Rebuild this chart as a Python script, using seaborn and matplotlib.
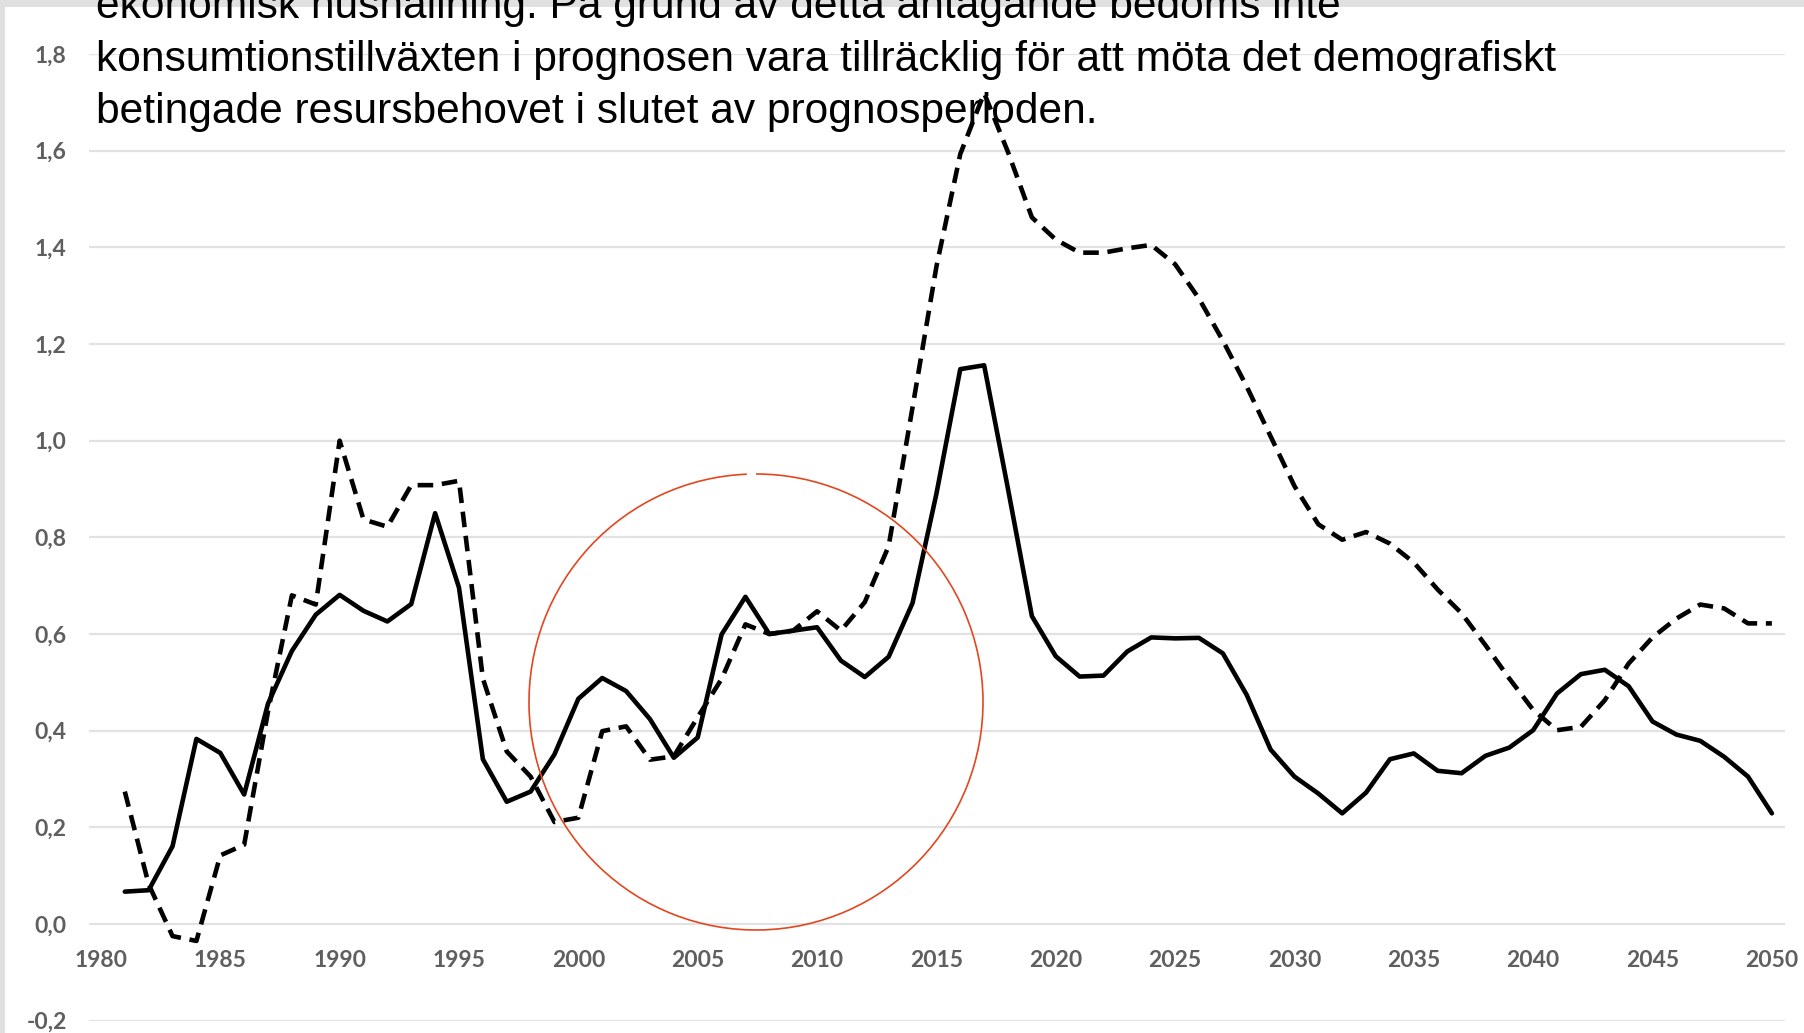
import numpy as np
import pandas as pd
import matplotlib
matplotlib.use("Agg")
import matplotlib.pyplot as plt
from matplotlib.patches import Rectangle, Arc
import seaborn as sns

# ---------------- data ----------------
years = list(range(1981, 2051))

solid_values = [
    0.067, 0.070, 0.161, 0.383, 0.354, 0.268, 0.456, 0.565, 0.640, 0.681,   # 1981-1990
    0.648, 0.626, 0.662, 0.850, 0.696, 0.341, 0.253, 0.274, 0.351, 0.466,   # 1991-2000
    0.509, 0.482, 0.424, 0.344, 0.386, 0.599, 0.677, 0.600, 0.607, 0.614,   # 2001-2010
    0.545, 0.511, 0.553, 0.664, 0.890, 1.148, 1.156, 0.900, 0.637, 0.554,   # 2011-2020
    0.512, 0.514, 0.564, 0.593, 0.591, 0.592, 0.560, 0.474, 0.361, 0.305,   # 2021-2030
    0.270, 0.229, 0.272, 0.341, 0.353, 0.317, 0.312, 0.348, 0.365, 0.401,   # 2031-2040
    0.477, 0.517, 0.526, 0.492, 0.419, 0.392, 0.379, 0.346, 0.305, 0.229,   # 2041-2050
]

dashed_values = [
    0.274, 0.082, -0.025, -0.035, 0.142, 0.164, 0.440, 0.680, 0.661, 1.000,  # 1981-1990
    0.837, 0.822, 0.908, 0.908, 0.917, 0.508, 0.357, 0.305, 0.211, 0.220,    # 1991-2000
    0.399, 0.409, 0.340, 0.347, 0.428, 0.507, 0.620, 0.600, 0.607, 0.647,    # 2001-2010
    0.607, 0.666, 0.782, 1.069, 1.360, 1.593, 1.719, 1.597, 1.462, 1.416,    # 2011-2020
    1.389, 1.389, 1.398, 1.405, 1.365, 1.294, 1.207, 1.112, 1.009, 0.906,    # 2021-2030
    0.827, 0.795, 0.811, 0.787, 0.748, 0.692, 0.643, 0.577, 0.508, 0.443,    # 2031-2040
    0.401, 0.408, 0.463, 0.539, 0.593, 0.632, 0.661, 0.653, 0.622, 0.622,    # 2041-2050
]

x_ticks = list(range(1980, 2051, 5))
y_ticks = [-0.2, 0.0, 0.2, 0.4, 0.6, 0.8, 1.0, 1.2, 1.4, 1.6, 1.8]
y_tick_labels = ["-0,2", "0,0", "0,2", "0,4", "0,6", "0,8", "1,0", "1,2", "1,4", "1,6", "1,8"]

text_lines = [
    "ekonomisk hushållning. På grund av detta antagande bedöms inte",
    "konsumtionstillväxten i prognosen vara tillräcklig för att möta det demografiskt",
    "betingade resursbehovet i slutet av prognosperioden.",
]

# ---------------- figure ----------------
sns.set_theme(style="white")
plt.rcParams["font.family"] = ["Liberation Sans", "DejaVu Sans"]

W, H = 1804, 1033
fig = plt.figure(figsize=(W / 100, H / 100), dpi=100)
fig.patch.set_facecolor("white")

# window chrome (grey strips on top and left)
fig.patches.append(Rectangle((0, 1 - 7 / H), 1, 7 / H, transform=fig.transFigure,
                             facecolor="#e0e0e0", edgecolor="none", zorder=0))
fig.patches.append(Rectangle((0, 0), 5 / W, 1, transform=fig.transFigure,
                             facecolor="#e0e0e0", edgecolor="none", zorder=0))

ax_left = 89 / W
ax_right = 1785 / W
ax_bottom = (H - 1020.7) / H
ax_top = (H - 54) / H
ax = fig.add_axes([ax_left, ax_bottom, ax_right - ax_left, ax_top - ax_bottom])
ax.set_facecolor("none")

df = pd.DataFrame({"year": years, "solid": solid_values, "dashed": dashed_values})

sns.lineplot(data=df, x="year", y="solid", ax=ax, color="black", linewidth=3.3,
             solid_joinstyle="round", solid_capstyle="round", zorder=3)
sns.lineplot(data=df, x="year", y="dashed", ax=ax, color="black", linewidth=3.3,
             linestyle=(0, (3.4, 1.9)), dash_joinstyle="round", zorder=3)

ax.set_xlim(1979.5, 2050.55)
ax.set_ylim(-0.2, 1.8)
ax.set_yticks(y_ticks)
ax.set_yticklabels(y_tick_labels)
ax.set_xticks(x_ticks)
ax.set_xticklabels([str(t) for t in x_ticks])
ax.set_xlabel("")
ax.set_ylabel("")

for s in ax.spines.values():
    s.set_visible(False)
ax.spines["bottom"].set_position(("data", 0))

ax.grid(axis="y", color="#e2e2e2", linewidth=1.6, zorder=0)
ax.grid(axis="x", visible=False)
ax.set_axisbelow(True)

tick_font = dict(family=["Lato", "DejaVu Sans"], size=16.5, weight="bold")
ax.tick_params(axis="both", length=0, colors="#5f5f5f")
ax.tick_params(axis="x", pad=18.5)
ax.tick_params(axis="y", pad=16)
for lbl in ax.get_xticklabels() + ax.get_yticklabels():
    lbl.set_fontfamily(tick_font["family"])
    lbl.set_fontsize(tick_font["size"])
    lbl.set_fontweight(tick_font["weight"])
    lbl.set_color("#5f5f5f")
for lbl in ax.get_yticklabels():
    lbl.set_clip_on(False)

# overlay axes in pixel coordinates for the red circle
ov = fig.add_axes([0, 0, 1, 1], zorder=5)
ov.set_xlim(0, W)
ov.set_ylim(H, 0)
ov.axis("off")
ov.patch.set_alpha(0)
ov.add_patch(Arc((756, 702), 454, 456, theta1=270, theta2=627.7,
                 color="#e2471f", linewidth=1.2))

# overlaid paragraph text (first line is partly cut off at the top, as in the source)
baselines = [18.4, 71.3, 123.5]
for line, b in zip(text_lines, baselines):
    fig.text(95.5 / W, 1 - b / H, line, ha="left", va="baseline",
             fontsize=30.6, color="black", family=["Liberation Sans", "DejaVu Sans"],
             zorder=10)

fig.savefig("out.png", dpi=100, facecolor="white")
